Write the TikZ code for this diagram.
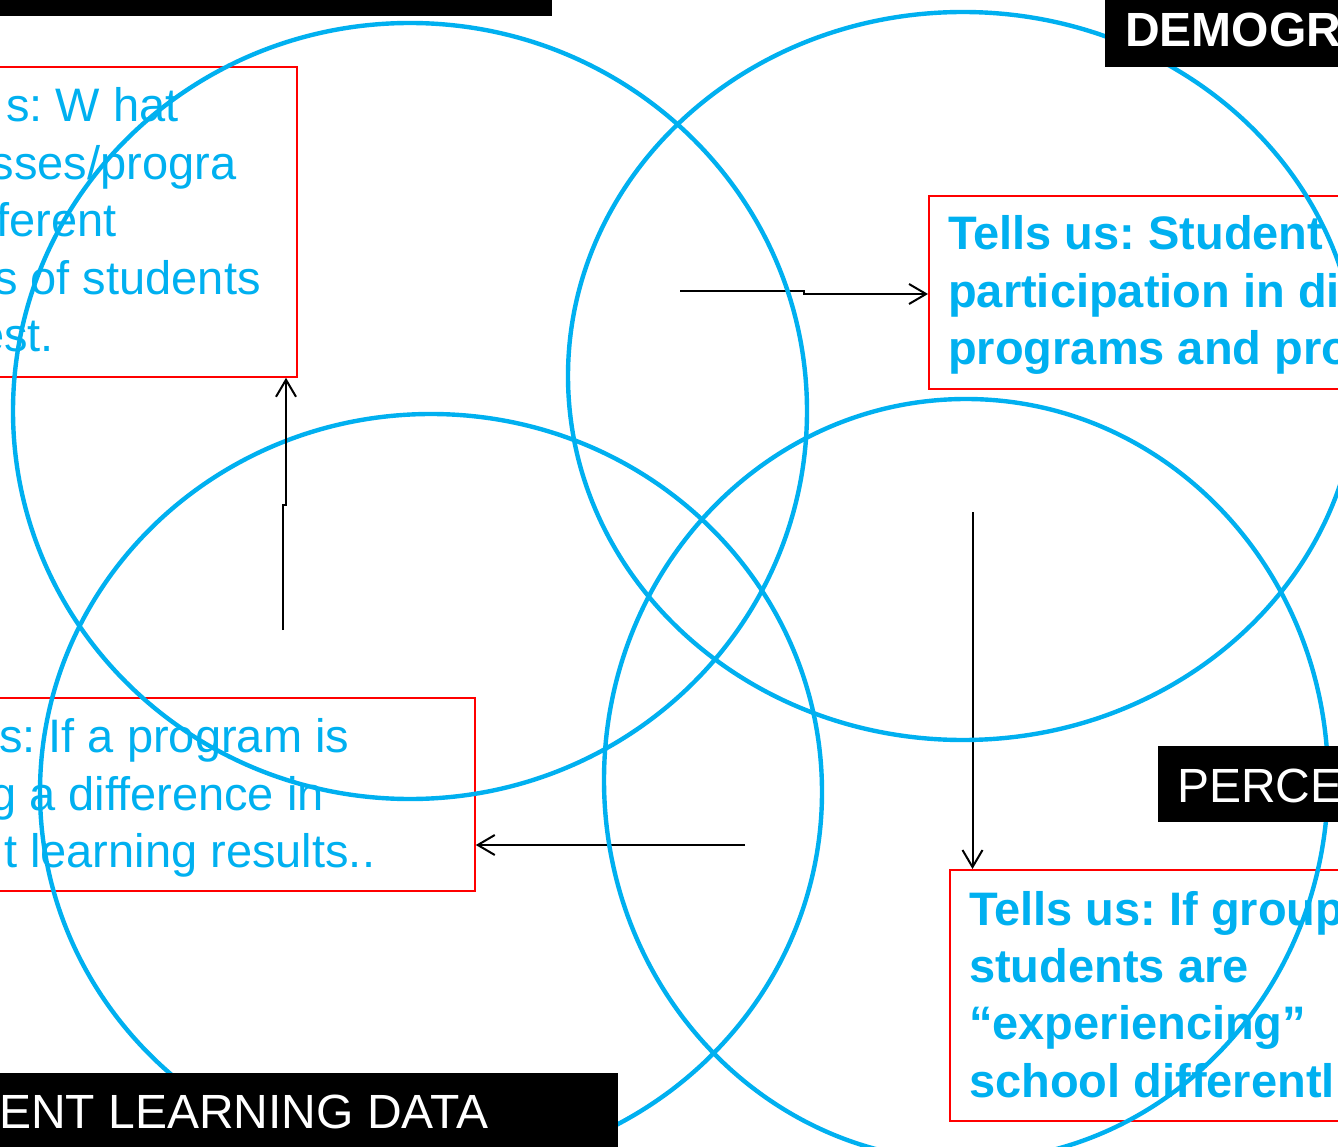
\documentclass[tikz,border=0pt]{standalone}
\usepackage{fontspec}
\setmainfont{Liberation Sans}
\usetikzlibrary{arrows.meta}
\definecolor{cy}{HTML}{00B0F0}
\frenchspacing
\begin{document}
\begin{tikzpicture}[x=1pt,y=-1pt,
  ring/.style={draw=cy,line width=4.4pt},
  redbox/.style={draw=red,line width=1.8pt,inner sep=0pt,anchor=north west},
  txt/.style={text=cy,font=\fontsize{47}{57.5}\selectfont,inner sep=0pt,anchor=base west},
  btxt/.style={text=cy,font=\fontsize{47}{57.5}\selectfont\bfseries,inner sep=0pt,anchor=base west},
  lbl/.style={fill=black,inner sep=0pt,anchor=north west},
  ltxt/.style={text=white,font=\fontsize{48}{57.5}\selectfont,inner sep=0pt,anchor=base west},
  conn/.style={draw=black,line width=2pt,-{Straight Barb[length=17pt,width=20pt]}}]
\useasboundingbox (0,0) rectangle (1338,1147);
\clip (0,0) rectangle (1338,1147);
\fill[white] (0,0) rectangle (1338,1147);

% red boxes
\node[redbox,minimum width=336,minimum height=310] (b1) at (-40,66) {};
\node[redbox,minimum width=450,minimum height=193] (b2) at (928,195) {};
\node[redbox,minimum width=514,minimum height=193] (b3) at (-40,697) {};
\node[redbox,minimum width=430,minimum height=251] (b4) at (949,869) {};

% box texts
\node[txt] (t11) at (6,122) {s: W hat};
\node[txt] (t12) at (-9.5,180) {sses/progra};
\node[txt] (t13) at (-4,237) {ferent};
\node[txt] (t14) at (-6,295) {s of students};
\node[txt] (t15) at (-22,352) {est.};

\node[btxt] (t21) at (948,250) {Tells us: Student};
\node[btxt] (t22) at (948,307.5) {participation in di};
\node[btxt] (t23) at (948,365) {programs and pro};

\node[txt] (t31) at (-1,752) {s: If a program is};
\node[txt] (t32) at (-10,810) {g a difference in};
\node[txt] (t33) at (4,867) {t learning results..};

\node[btxt] (t41) at (969,925) {Tells us: If group};
\node[btxt] (t42) at (969,982) {students are};
\node[btxt] (t43) at (969,1039) {“experiencing”};
\node[btxt] (t44) at (969,1097) {school differentl};

% connectors start points
\coordinate (s1) at (283,630);
\coordinate (j1) at (286,505);
\coordinate (s2) at (680,291.5);
\coordinate (j2) at (804,294);
\coordinate (s3) at (972.5,512);
\coordinate (s4) at (745,845);

% circles and connectors
\draw[ring] (431,792) ellipse [x radius=391, y radius=378];
\draw[conn] (s1) |- (j1) -- (j1 |- b1.south);
\draw[conn] (s2) -| (j2) -- (b2.west |- j2);
\draw[conn] (s3) -- (s3 |- b4.north);
\draw[conn] (s4) -- (b3.east |- s4);
\draw[ring] (410,411) ellipse [x radius=397, y radius=388];
\draw[ring] (963,376) ellipse [x radius=395, y radius=364];
\draw[ring] (966,780) ellipse [x radius=362, y radius=381];

% black labels
\node[lbl,minimum width=552,minimum height=16] (l0) at (0,0) {};
\node[lbl,minimum width=240,minimum height=67] (l1) at (1105,0) {};
\node[ltxt,font=\fontsize{48}{57.5}\selectfont\bfseries] (l1t) at (1125,47) {DEMOGR};
\node[lbl,minimum width=190,minimum height=76] (l2) at (1158,746) {};
\node[ltxt] (l2t) at (1177,802) {PERCE};
\node[lbl,minimum width=618,minimum height=80] (l3) at (0,1073) {};
\node[ltxt] (l3t) at (-1,1128) {ENT LEARNING DATA};
\end{tikzpicture}
\end{document}
